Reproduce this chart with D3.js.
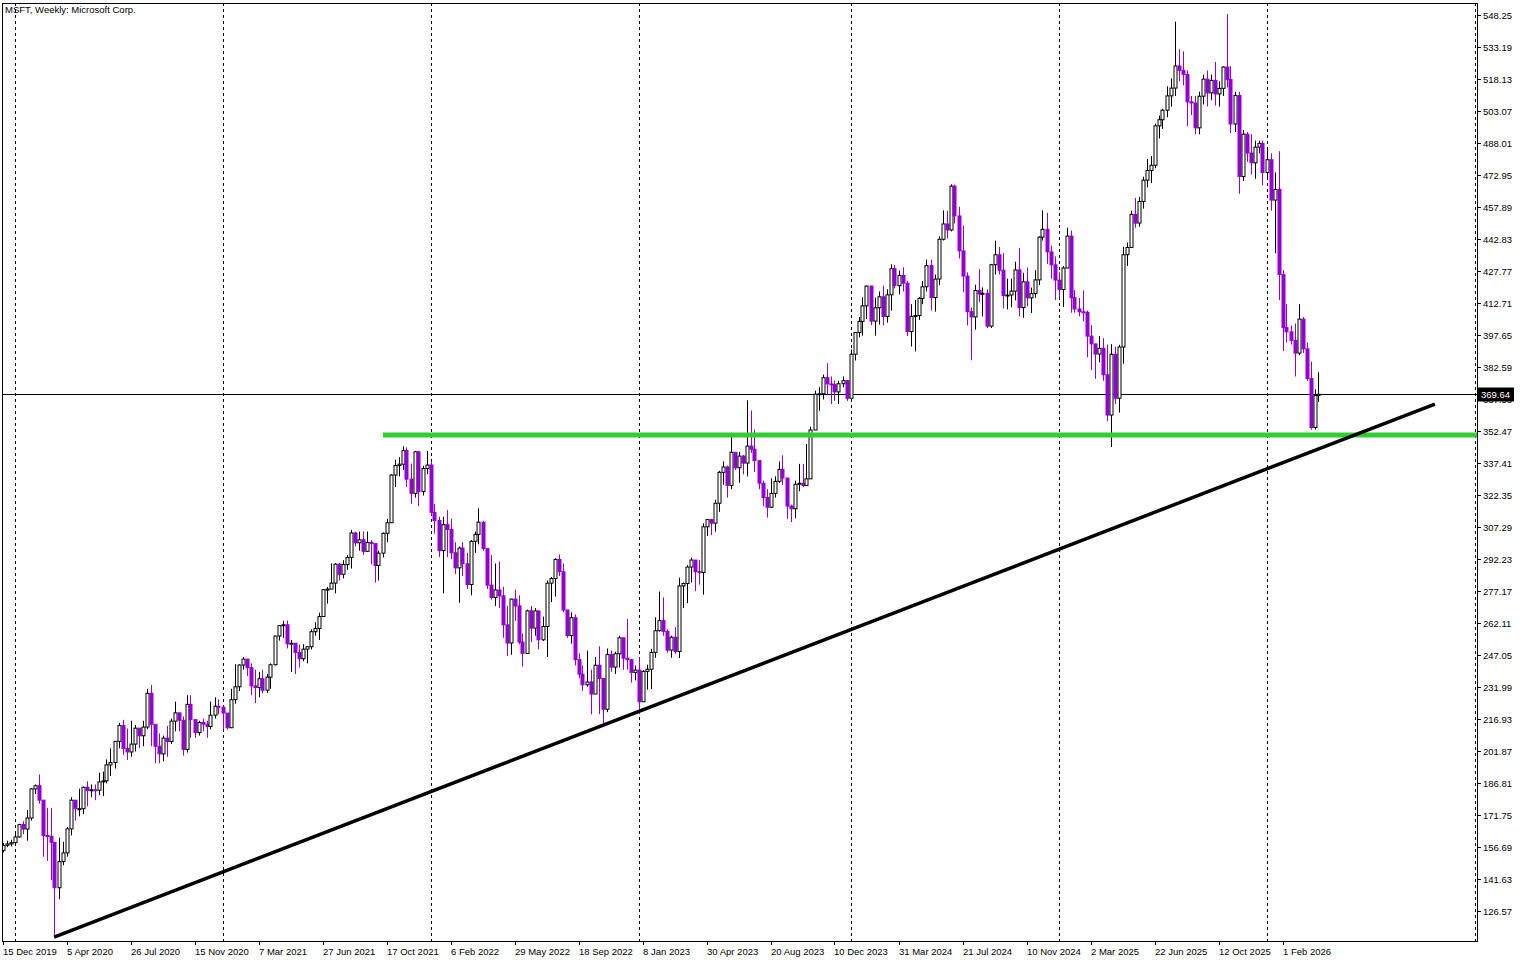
<!DOCTYPE html>
<html><head><meta charset="utf-8">
<script src="https://cdn.jsdelivr.net/npm/d3@7"></script>
<style>body{margin:0;background:#fff}text{font-family:"Liberation Sans",Arial,sans-serif}</style>
</head><body><svg id="c" width="1526" height="963"></svg>
<script>
const title = "MSFT, Weekly:  Microsoft Corp.";
const startDate = new Date(2019, 11, 15);
const firstOpen = 155.0;
const closes = [157.4,158.0,
158.6,161.3,167.1,165.0,170.2,183.9,185.4,178.6,162.0,161.6,158.8,137.4,149.7,153.8,165.1,178.6,174.6,174.6,184.7,183.2,183.5,183.3,187.2,187.7,195.2,196.3,206.3,213.7,202.9,201.3,205.0,212.5,208.9,213.0,228.9,214.3,204.0,200.4,207.8,206.2,215.8,219.7,216.2,202.5,223.7,216.5,210.4,215.2,214.4,213.3,218.6,222.8,222.4,
219.6,212.7,225.9,231.96,242.2,244.99,240.97,232.4,231.6,235.75,230.35,236.5,242.35,255.85,260.74,261.15,252.18,252.46,248.15,245.17,249.68,250.79,257.89,259.43,265.02,277.65,277.94,280.75,289.67,284.91,289.46,292.85,304.36,299.72,301.14,295.71,299.87,299.35,289.1,294.85,304.21,309.16,331.62,336.06,336.72,343.11,329.68,323.01,342.54,323.8,334.69,336.32,
314.04,310.2,296.03,308.26,305.94,295.04,287.93,297.26,289.86,280.07,300.43,303.68,309.42,296.97,279.83,274.03,277.52,274.73,261.12,252.56,273.24,270.02,252.99,247.65,267.7,259.58,267.66,254.08,260.36,280.74,282.91,291.91,286.15,268.09,256.06,264.46,244.74,237.92,232.9,234.24,228.56,242.12,235.87,221.39,247.11,241.22,247.49,255.02,245.42,244.69,238.73,239.82,
224.93,239.23,240.22,248.16,258.35,263.1,258.06,249.22,255.29,248.59,279.43,280.57,288.3,291.6,286.14,285.76,307.26,310.65,308.97,318.34,332.89,335.4,326.79,342.33,335.02,340.54,337.22,345.24,343.77,338.37,327.78,321.01,316.48,322.98,328.66,334.27,330.22,317.01,315.75,327.26,327.73,326.67,329.81,352.8,369.67,369.85,377.43,374.51,374.23,370.73,374.58,376.04,
367.75,388.47,398.67,403.93,411.22,420.55,404.06,410.34,415.5,406.22,416.42,428.74,420.72,425.52,421.9,399.12,406.32,406.66,414.74,420.21,430.16,415.13,423.85,442.57,449.78,446.95,467.56,453.55,437.11,425.27,408.49,406.02,418.47,416.79,417.14,401.7,430.59,435.27,428.02,416.06,416.32,418.16,428.15,410.37,422.54,415.0,417.0,423.46,443.57,447.27,436.6,430.53,
423.35,418.95,429.03,444.06,415.06,409.75,408.43,408.21,396.99,393.31,388.56,391.26,378.8,359.84,388.45,367.78,391.85,435.28,438.73,454.27,450.18,460.36,470.38,474.96,477.4,495.94,498.84,503.32,510.05,513.71,524.11,522.04,520.17,507.23,506.69,495.0,509.9,517.93,511.46,517.35,510.96,513.58,523.61,517.81,496.82,510.18,472.12,492.01,483.16,478.53,485.92,487.7,
474,480,461,466,426,401,399,395,389,405,391,377,354,369,369.64];
const highs = [158.5,159.5,
160,163.2,167.5,168.7,174,184.2,186,190.7,178,175,175,158,161,159,166,180,178.5,184,185,187.5,186,186,191.5,192,197.8,203,206.5,215,216.4,212.3,216,214,212,216,231,232.9,212,210,209,213.5,217,225,218,218,228,228,216,216,217,216,225,227,226,
223,218.9,231,242.6,242.5,246,245,243,240,239,240,238,243,256,261,263,263.2,254,249,251.8,252,251,259,262.3,266.8,278,279,290,290.2,290.2,291.5,294,305.8,305,305,305,305,301,299,296,304.6,311,332,338.8,340,345.1,344.6,337,343,343,336,343,
338,318,312,312,315.1,311,300,298,300,295,301,305,315.95,310,292,294,290,290.9,279,270,273.5,277.7,275,257,268.3,270,269,266,265,282,283.6,292.4,294.2,290,267,267,266,247.7,242,249,240,246,251,235,250,249,248.5,256,252,263.9,245,242,
245.8,239.9,242.4,249.8,264.7,276.8,274,259,256,260,283.3,281,289.3,292.7,291,291.6,308.9,311,311,320,333.6,338,336,351.5,342,342.5,341,366.8,362,353,338.7,329,325,330,331,338,340.9,330,317.7,329,336.9,336.9,346.2,354.4,371.3,373,378.9,384.3,378,376,376,378,
376,390.7,399,406,415.3,420.8,420.7,415.1,418,420.8,419,430.8,430.5,427.9,429.4,422.9,412,414,415.4,422.9,433,433,426,444,456.2,456,468.4,468.3,457.8,449,427,410.4,421.2,428.5,419.9,419,431,441.9,439,436,424,424,432,438.5,426.8,429.3,419.8,428,444,456.2,455,439.6,
434.5,427,430,448,446.7,418.7,415,418.5,409,402.2,392.8,397,396,393,393.2,392,392.9,439,441,456,462,462.5,472,480.4,481.7,497,500.8,504,514.6,518.3,545,532,531,522,510,510,512,520,522,520,526,517,524,548.5,524,512,512,494,493,492,489,489,
489,485,483,474,484,428,412,402,403,412,406,394,385,372,380];
const lows = [154,156.5,
156.8,157,161,162.6,159.5,169,181.5,177,152,150,141,114.5,132,148,152,162,169,171,172,175.7,180,178.6,181,180.5,186.5,190,193.5,203,200,197.5,199,201.5,203,204,212,204,196,196,197,199,205,211,211,199.6,201,208,208,209,211,208,212,217,219,
211.9,211.8,212.5,224,230,240,237,228,224.3,227.1,229,229,231,242,253.7,255,250,239,238,241,244,243,249.5,256,254,265,271.1,278,276,282,283,287,287.6,298,296,294,295.4,289.5,281,282,292.8,300,309,326,331,334,326,318,321,317,322,332,
313,304,293,276,293,292,285,271.5,284,278,275,295,299,296,278,273,270,269,255,246.4,247,263,252,241.5,248,253,256,249.6,253.5,246,271.8,274.4,284,267,255,252.3,242,236,230,232,219,229,219.1,213.4,220,239,238,241,240,240,233.9,235,
219.4,225.8,230.6,230.9,245.6,258,256,248,245.6,247.5,245.5,269,271.4,281.1,277,280,275.3,302.9,303.4,305,314.3,327,321,325,334,328,332,331,342,333,325,317,311.6,316,321,328,327,311,309.5,311.2,324,326,326.6,331.4,353,361.8,367.2,369.5,365,366.5,365,373,
366.5,369,385.5,396.5,397.2,405,402.1,397.2,402.4,402,403.3,409,419.5,416.7,418,397,392.1,389.8,404.6,412,418,409,408.5,421,442,443,446.3,450,433.5,417.6,402,385.6,400,413,406.2,400.8,400.8,426,426,410,409.6,410.6,413.8,406.3,405.6,411,407.9,415,421,442,431,424,
414,415,410.7,430,408,408,406.3,404,387,381,376.9,384.7,376,357,344.8,365,361,384,430,440,448,448.5,457,467,469,476,490,494.5,500,505,510,517,515,495.8,501,492,492,506,505,508,505.5,505,510,514,492.6,493,464,470,479,473,471,483,
468,471,456,436,414,390,394,393,378,388,389,376,353,353,366];
const priceTicks = [126.57,141.63,156.69,171.75,186.81,201.87,216.93,231.99,247.05,262.11,277.17,292.23,307.29,322.35,337.41,352.47,367.53,382.59,397.65,412.71,427.77,442.83,457.89,472.95,488.01,503.07,518.13,533.19,548.25];
const dateLabels = ["15 Dec 2019","5 Apr 2020","26 Jul 2020","15 Nov 2020","7 Mar 2021","27 Jun 2021","17 Oct 2021","6 Feb 2022","29 May 2022","18 Sep 2022","8 Jan 2023","30 Apr 2023","20 Aug 2023","10 Dec 2023","31 Mar 2024","21 Jul 2024","10 Nov 2024","2 Mar 2025","22 Jun 2025","12 Oct 2025","1 Feb 2026"];
const gridWeeks = [3,55,107,159,212,264,316,368];
const currentPrice = 369.64;
const supportLevel = 350.45, supportStartWeek = 95.1;
const trendPoints = [[12.9,114.2],[358.1,365.0]];

const WEEK = 7*864e5;
const wd = w => new Date(startDate.getTime() + w*WEEK);
const svg = d3.select("#c");
const L=2, R=1477, T=3, B=941;
const x = d3.scaleTime().domain([startDate, wd(369)]).range([2.5, 2.5+369*4]);
const y = d3.scaleLinear().domain([548.25, 126.57]).range([14.7, 14.7+421.68/0.4706]);
const bull="#000", bear="#9400D3";

const g = svg.append("g");
g.append("defs").append("clipPath").attr("id","clip").append("rect").attr("x",L).attr("y",T).attr("width",R-L).attr("height",B-T);
const plot = g.append("g").attr("clip-path","url(#clip)");

// grid
plot.selectAll(".grid").data(gridWeeks).enter().append("line")
 .attr("x1",d=>Math.round(x(wd(d)))+0.5).attr("x2",d=>Math.round(x(wd(d)))+0.5).attr("y1",T).attr("y2",B)
 .attr("stroke","#000").attr("stroke-dasharray","3,3").attr("stroke-width",1);

// current price line
plot.append("line").attr("x1",L).attr("x2",R).attr("y1",Math.round(y(currentPrice))+0.5).attr("y2",Math.round(y(currentPrice))+0.5).attr("stroke","#000");

// candles
const data = closes.map((c,i)=>({i,o:i?closes[i-1]:firstOpen,c,h:highs[i],l:lows[i]}));
const cg = plot.selectAll(".cd").data(data).enter().append("g");
cg.append("line").attr("x1",d=>Math.round(x(wd(d.i)))+0.5).attr("x2",d=>Math.round(x(wd(d.i)))+0.5)
 .attr("y1",d=>y(d.h)).attr("y2",d=>y(d.l)).attr("stroke",d=>d.c>=d.o?bull:bear).attr("stroke-width",1);
cg.append("rect").attr("x",d=>Math.round(x(wd(d.i)))-1).attr("width",3)
 .attr("y",d=>y(Math.max(d.o,d.c))).attr("height",d=>Math.max(1,Math.abs(y(d.o)-y(d.c))))
 .attr("fill",d=>d.c>=d.o?"#fff":bear).attr("stroke",d=>d.c>=d.o?bull:bear).attr("stroke-width",1);

// support line
plot.append("line").attr("x1",x(wd(supportStartWeek))).attr("x2",R).attr("y1",y(supportLevel)).attr("y2",y(supportLevel))
 .attr("stroke","#32CD32").attr("stroke-width",5);
// trend line
plot.append("line").attr("x1",x(wd(trendPoints[0][0]))).attr("y1",y(trendPoints[0][1]))
 .attr("x2",x(wd(trendPoints[1][0]))).attr("y2",y(trendPoints[1][1]))
 .attr("stroke","#000").attr("stroke-width",3.5).attr("stroke-linecap","butt");

// frame
g.append("rect").attr("x",L+0.5).attr("y",T+0.5).attr("width",R-L).attr("height",B-T).attr("fill","none").attr("stroke","#000");

// price axis
const pa = g.append("g");
priceTicks.forEach(p=>{
  const yy=Math.round(y(p))+0.5;
  pa.append("line").attr("x1",R).attr("x2",R+4).attr("y1",yy).attr("y2",yy).attr("stroke","#000");
  pa.append("text").attr("x",R+6).attr("y",yy+3.5).attr("font-size","9.5px").text(p.toFixed(2));
});
const cy=Math.round(y(currentPrice))+0.5;
pa.append("rect").attr("x",R+1).attr("y",cy-7).attr("width",36).attr("height",14).attr("fill","#000");
pa.append("text").attr("x",R+4).attr("y",cy+3.5).attr("font-size","9.5px").attr("fill","#fff").text(currentPrice.toFixed(2));

// date axis
dateLabels.forEach((t,k)=>{
  const xx=Math.round(x(wd(k*16)));
  g.append("line").attr("x1",xx+0.5).attr("x2",xx+0.5).attr("y1",B).attr("y2",B+4).attr("stroke","#000");
  g.append("text").attr("x",xx).attr("y",955).attr("font-size","9.5px").text(t);
});
g.append("text").attr("x",5).attr("y",13).attr("font-size","9.5px").text(title);
</script></body></html>
